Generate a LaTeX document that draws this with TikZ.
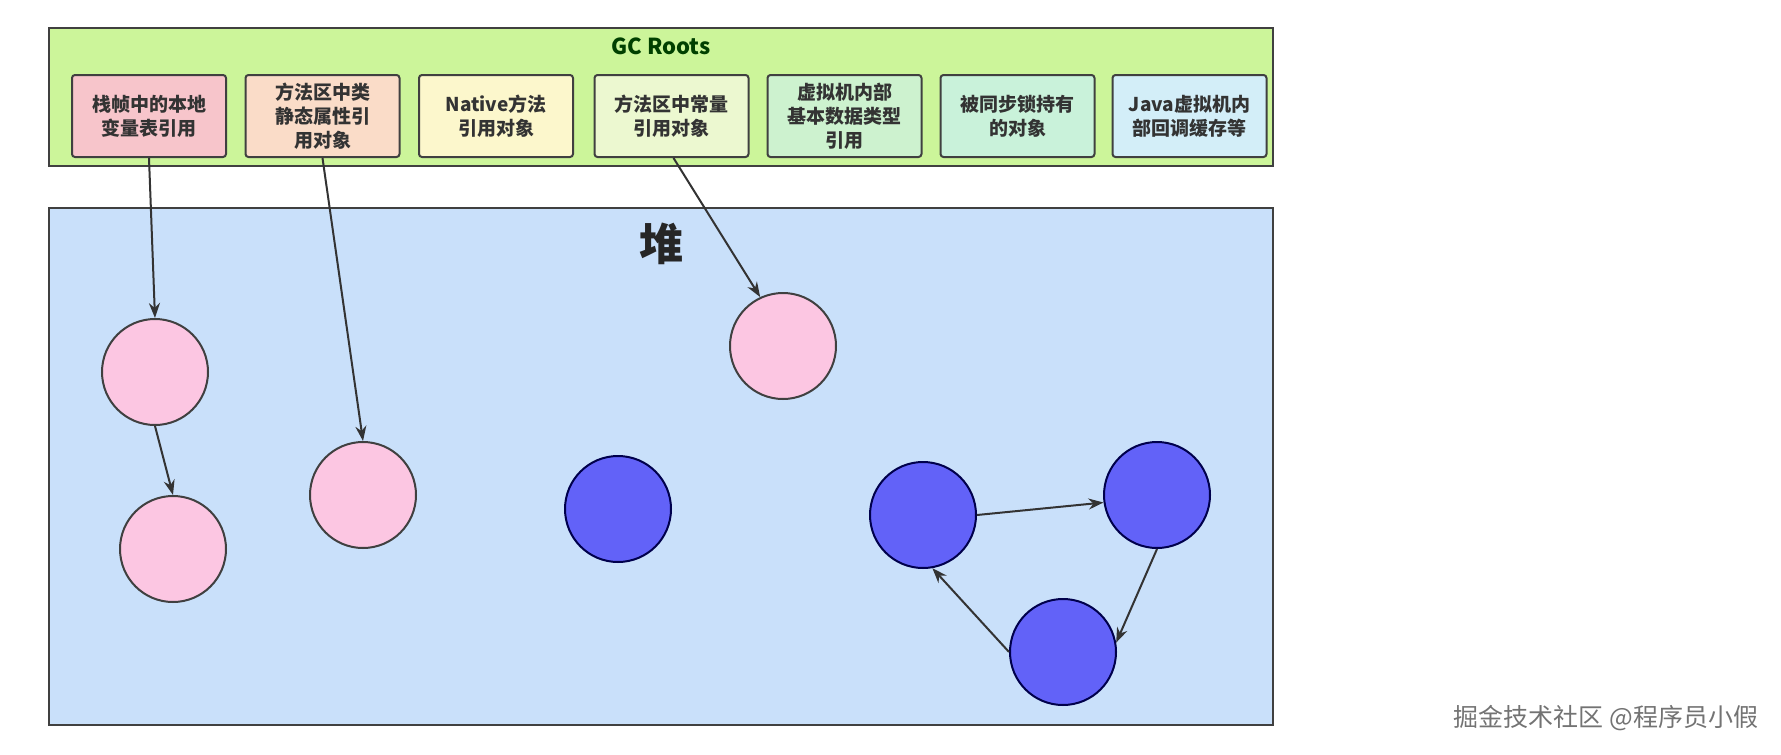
\documentclass[tikz,border=0pt]{standalone}
\usepackage{fontspec}
\setmainfont{Noto Sans CJK SC}
\usetikzlibrary{arrows.meta,positioning,calc}
\definecolor{rootgreen}{HTML}{CCF59A}
\definecolor{heapblue}{HTML}{C9E0FA}
\definecolor{objpink}{HTML}{FCC6E2}
\definecolor{objblue}{HTML}{6262F8}
\definecolor{fillA}{HTML}{F7C5CB}
\definecolor{fillB}{HTML}{FADCC8}
\definecolor{fillC}{HTML}{FCF7CC}
\definecolor{fillD}{HTML}{ECF8D0}
\definecolor{fillE}{HTML}{CDF2CF}
\definecolor{fillF}{HTML}{C9F2DA}
\definecolor{fillG}{HTML}{D3EEF8}
\tikzset{
    >={Stealth[length=15pt,width=11pt]},
    every picture/.style={line width=2pt},
    rootbox/.style={draw=black!75,rounded corners=3pt,minimum width=154pt,minimum height=82pt,
        inner sep=2pt,align=center,text=black!80,font=\fontsize{19}{24}\selectfont\bfseries},
    pinkobj/.style={circle,draw=black!75,fill=objpink,minimum size=106pt,inner sep=0pt},
    blueobj/.style={circle,draw=blue!30!black,fill=objblue,minimum size=106pt,inner sep=0pt},
    ref/.style={->,draw=black!80}
}

\begin{document}
\begin{tikzpicture}[x=1pt,y=-1pt]
    \useasboundingbox (0,0) rectangle (1781,755);

    % GC Roots area
    \draw[draw=black!75,fill=rootgreen] (49,28) rectangle (1273,166);
    \node[font=\fontsize{22}{26}\selectfont\bfseries,text=green!25!black] (gctitle) at (661,46) {GC Roots};
    \node[rootbox,fill=fillA] (local) at (149,116) {栈帧中的本地\\变量表引用};
    \node[rootbox,fill=fillB,right=17.5pt of local] (static) {方法区中类\\静态属性引\\用对象};
    \node[rootbox,fill=fillC,right=17.5pt of static] (native) {Native方法\\引用对象};
    \node[rootbox,fill=fillD,right=19.5pt of native] (const) {方法区中常量\\引用对象};
    \node[rootbox,fill=fillE,right=17pt of const] (basic) {虚拟机内部\\基本数据类型\\引用};
    \node[rootbox,fill=fillF,right=17pt of basic] (sync) {被同步锁持有\\的对象};
    \node[rootbox,fill=fillG,right=16pt of sync] (jvm) {Java虚拟机内\\部回调缓存等};

    % heap
    \draw[draw=black!75,fill=heapblue] (49,208) rectangle (1273,725);
    \node[font=\fontsize{44}{48}\selectfont\bfseries,text=black!85] (heap) at (661,244) {堆};

    \node[pinkobj] (p1) at (155,372) {};
    \node[pinkobj] (p2) at (173,549) {};
    \node[pinkobj] (p3) at (363,495) {};
    \node[pinkobj] (p4) at (783,346) {};
    \node[blueobj] (b1) at (618,509) {};
    \node[blueobj] (b2) at (923,515) {};
    \node[blueobj] (b3) at (1157,495) {};
    \node[blueobj] (b4) at (1063,652) {};

    \draw[ref] (local.south) -- (p1.north);
    \draw[ref] (p1.south) -- (p2.north);
    \draw[ref] (static.south) -- (p3.north);
    \draw[ref] ($(const.south)+(2,0)$) -- (p4.115);
    \draw[ref] (b2.east) -- (b3.188);
    \draw[ref] (b3.south) -- (b4.10);
    \draw[ref] (b4.west) -- (b2.-80);

    \node[font=\fontsize{25}{28}\selectfont,text=black!55] (mark) at (1606,718) {掘金技术社区 @程序员小假};
\end{tikzpicture}
\end{document}
